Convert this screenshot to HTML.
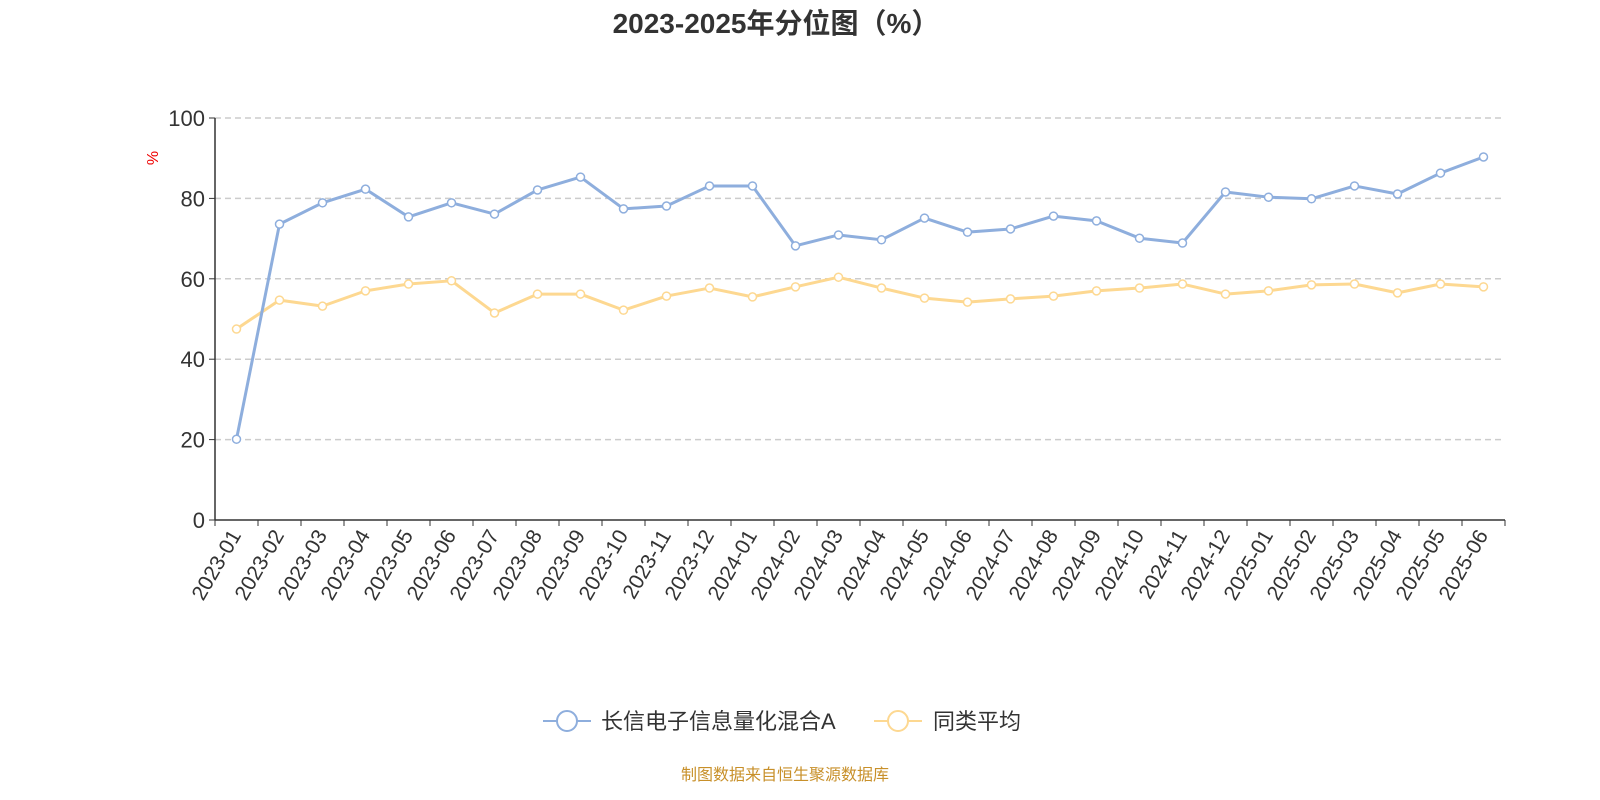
<!DOCTYPE html>
<html><head><meta charset="utf-8"><style>
body{margin:0;background:#fff;}
svg{display:block;font-family:"Liberation Sans","Noto Sans CJK SC",sans-serif;}
</style></head><body>
<svg id="chart" width="1600" height="800" viewBox="0 0 1600 800">
<text x="776" y="33" text-anchor="middle" font-size="28" font-weight="bold" fill="#333">2023-2025年分位图（%）</text>
<text x="158" y="158" font-size="16" fill="#e00" text-anchor="middle" transform="rotate(-90 158 158)">%</text>
<g id="grid"></g><g id="axes"></g><g id="series"></g>
<g>
<g>
<line x1="543" y1="721" x2="591" y2="721" stroke="#8eaedd" stroke-width="2"/>
<circle cx="567" cy="721" r="10" fill="#fff" stroke="#8eaedd" stroke-width="2"/>
<text x="601" y="729" font-size="22" fill="#333">长信电子信息量化混合A</text></g>
<g>
<line x1="874" y1="721" x2="922" y2="721" stroke="#fdd891" stroke-width="2"/>
<circle cx="898" cy="721" r="10" fill="#fff" stroke="#fdd891" stroke-width="2"/>
<text x="933" y="729" font-size="22" fill="#333">同类平均</text></g>
</g>
<text x="785" y="780" text-anchor="middle" font-size="16" fill="#c8902a">制图数据来自恒生聚源数据库</text>
</svg>
<script>
const categories=["2023-01","2023-02","2023-03","2023-04","2023-05","2023-06","2023-07","2023-08","2023-09","2023-10","2023-11","2023-12","2024-01","2024-02","2024-03","2024-04","2024-05","2024-06","2024-07","2024-08","2024-09","2024-10","2024-11","2024-12","2025-01","2025-02","2025-03","2025-04","2025-05","2025-06"];
const fundValues=[20.1,73.6,78.9,82.3,75.4,78.9,76.1,82.1,85.3,77.4,78.1,83.1,83.1,68.2,70.9,69.7,75.1,71.6,72.4,75.6,74.4,70.1,68.9,81.6,80.3,79.9,83.1,81.1,86.3,90.3];
const avgValues=[47.5,54.7,53.2,57.0,58.7,59.5,51.5,56.2,56.2,52.2,55.7,57.7,55.5,58.0,60.4,57.7,55.2,54.2,55.0,55.7,57.0,57.7,58.7,56.2,57.0,58.5,58.7,56.5,58.7,58.0];
const yTicks=[0,20,40,60,80,100];
const NS="http://www.w3.org/2000/svg";
const L=215,R=1505,T=118,B=520;
const bw=(R-L)/categories.length;
const xPos=i=>L+bw*(i+0.5);
const yPos=v=>B-(v/100)*(B-T);
function mk(tag,attrs,parent){const e=document.createElementNS(NS,tag);for(const k in attrs)e.setAttribute(k,attrs[k]);parent.appendChild(e);return e;}
const grid=document.getElementById('grid'),axes=document.getElementById('axes'),series=document.getElementById('series');
yTicks.forEach(t=>{
 const y=yPos(t);
 if(t>0){const g=mk('line',{x1:L,x2:R,y1:y,y2:y,stroke:'#ccc','stroke-dasharray':'6,4','stroke-width':1.5},grid);
 
 }
 mk('line',{x1:L-6,x2:L,y1:y,y2:y,stroke:'#333'},axes);
 const tx=mk('text',{x:L-10,y:y+8,'text-anchor':'end','font-size':22,fill:'#333'},axes);
 tx.textContent=t;
 
 
});
const ya=mk('line',{x1:L,x2:L,y1:T,y2:B,stroke:'#333','stroke-width':1.5},axes);


const xa=mk('line',{x1:L,x2:R,y1:B,y2:B,stroke:'#333','stroke-width':1.5},axes);


for(let i=0;i<=categories.length;i++){mk('line',{x1:L+bw*i,x2:L+bw*i,y1:B,y2:B+6,stroke:'#333'},axes);}
categories.forEach((c,i)=>{
 const x=xPos(i),y=B+12;
 const tx=mk('text',{x:x,y:y+6,'text-anchor':'end','font-size':21,fill:'#333',transform:`rotate(-60 ${x} ${y})`},axes);
 tx.textContent=c;
 
 
});
function drawSeries(vals,color,name){
 const p=mk('polyline',{points:vals.map((v,i)=>xPos(i)+','+yPos(v)).join(' '),fill:'none',stroke:color,'stroke-width':3,'stroke-linejoin':'round'},series);
 
 
 vals.forEach((v,i)=>{
  const c=mk('circle',{cx:xPos(i),cy:yPos(v),r:4,fill:'#fff',stroke:color,'stroke-width':1.5},series);
  
  
 });
}
drawSeries(avgValues,'#fdd891','average');
drawSeries(fundValues,'#8eaedd','fund');
</script>
</body></html>
